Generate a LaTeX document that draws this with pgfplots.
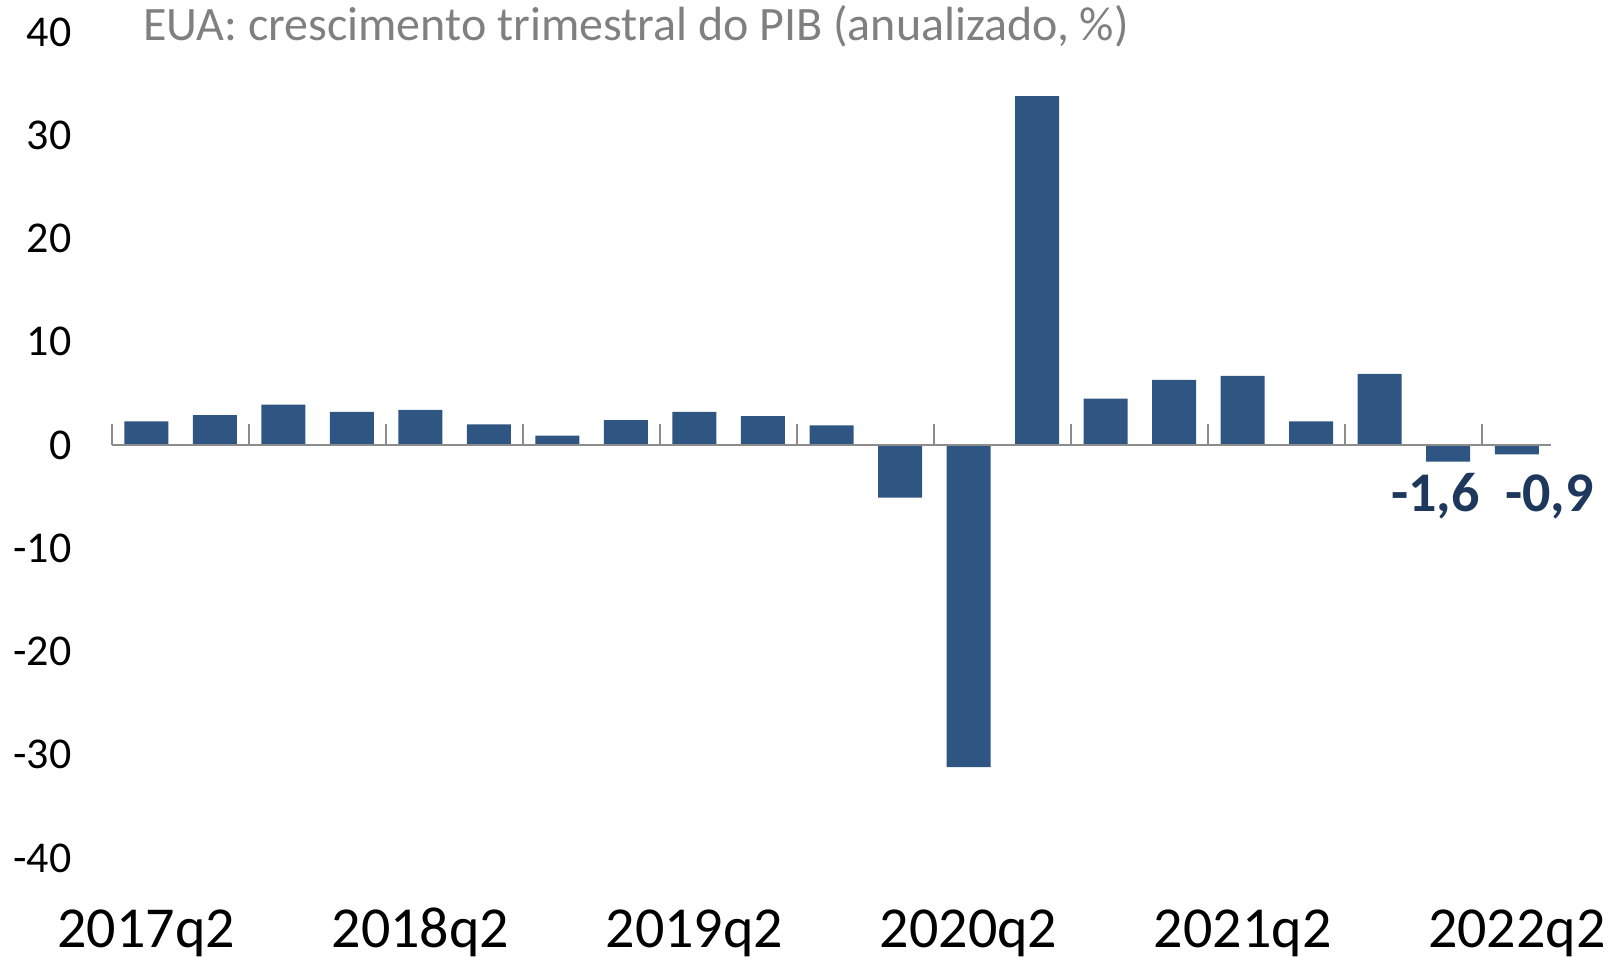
\documentclass[border=0pt]{standalone}
\usepackage{pgfplots}
\pgfplotsset{compat=1.18}
\usepackage{fontspec}
\setmainfont{Carlito}
\definecolor{barblue}{RGB}{47,85,130}
\definecolor{lblnavy}{RGB}{30,55,92}
\definecolor{titlegray}{RGB}{128,128,128}
\definecolor{axgray}{RGB}{140,140,140}
\begin{document}
\begin{tikzpicture}
\useasboundingbox (-56pt,-51.5pt) rectangle (754.5pt,429pt);
\begin{axis}[
  at={(0,0)}, anchor=south west,
  scale only axis,
  width=719.5pt, height=413pt,
  xmin=-0.5, xmax=20.5,
  ymin=-40, ymax=40,
  axis line style={draw=none},
  major tick length=0pt,
  ytick={-40,-30,-20,-10,0,10,20,30,40},
  yticklabels={-40,-30,-20,-10,0,10,20,30,40},
  xtick={0,4,8,12,16,20},
  xticklabels={2017q2,2018q2,2019q2,2020q2,2021q2,2022q2},
  yticklabel style={font=\fontsize{22}{26}\selectfont, anchor=east, inner sep=0pt, xshift=-20pt},
  xticklabel style={font=\fontsize{29}{33}\selectfont, anchor=base, inner sep=0pt, yshift=-45pt},
  clip=false,
]
\addplot[ybar, bar width=22pt, fill=barblue, draw=none] coordinates {
(0,2.3) (1,2.9) (2,3.9) (3,3.2) (4,3.4) (5,2.0) (6,0.9) (7,2.4) (8,3.2) (9,2.8)
(10,1.9) (11,-5.1) (12,-31.2) (13,33.8) (14,4.5) (15,6.3) (16,6.7) (17,2.3) (18,6.9)
(19,-1.6) (20,-0.9)
};
\draw[axgray, line width=1.2pt] (axis cs:-0.5,0) -- (axis cs:20.5,0);
\pgfplotsinvokeforeach{-0.5,1.5,3.5,5.5,7.5,9.5,11.5,13.5,15.5,17.5,19.5}{
  \draw[axgray, line width=1pt] (axis cs:#1,0) -- ([yshift=10.5pt]axis cs:#1,0);
}
\node[anchor=base west, text=titlegray, font=\fontsize{24}{28}\selectfont, inner sep=0pt]
  at ([xshift=15.5pt, yshift=-4pt]rel axis cs:0,1) {EUA: crescimento trimestral do PIB (anualizado, \%)};
\node[text=lblnavy, font=\bfseries\fontsize{28}{32}\selectfont, inner sep=0pt] at (axis cs:18.81,-5.0) {-1,6};
\node[text=lblnavy, font=\bfseries\fontsize{28}{32}\selectfont, inner sep=0pt] at (axis cs:20.48,-5.0) {-0,9};
\end{axis}
\end{tikzpicture}
\end{document}
